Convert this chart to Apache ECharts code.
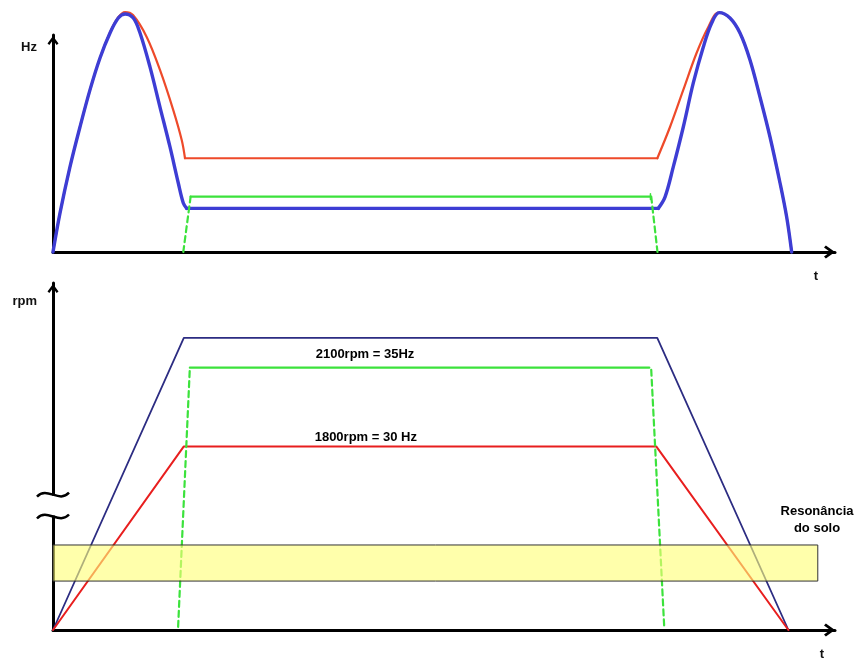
<!DOCTYPE html>
<html><head><meta charset="utf-8">
<script src="https://cdn.jsdelivr.net/npm/echarts@6/dist/echarts.min.js"></script>
<style>html,body{margin:0;padding:0;background:#fff}#c{width:856px;height:662px}</style>
</head><body><div id="c"></div>
<script>
// ---- top panel: frequency (Hz) vs time (arbitrary units) ----
const hzBlueUp = [[0,0],[0.9,18.0],[2.17,39.2],[3.45,57.6],[4.73,74.7],[6.01,89.4],[7.29,100.9],[8.35,107.8],[9.21,109.7],[10.27,107.8],[11.13,100.9],[12.4,85.3],[13.68,66.8],[14.96,48.4],[16.02,31.8],[16.66,22.6],[17.1,20.1]];
const hzBlueFlat = [[17.1,20.1],[77.4,20.1]];
const hzBlueDown = [[77.4,20.1],[78.26,25.3],[79.32,39.2],[80.6,57.6],[81.88,77.9],[83.16,94.5],[84.23,105.5],[85.2,110.3],[86.57,107.8],[87.85,100.9],[89.13,88.5],[90.41,71.4],[91.69,53.0],[92.97,31.8],[93.82,16.1],[94.46,0]];
const hzRedUp = [[0,0],[0.9,18.0],[2.17,39.2],[3.45,57.6],[4.73,74.7],[6.01,89.4],[7.29,101.2],[8.35,108.2],[9.21,110.6],[10.23,109.2],[11.98,99.1],[13.68,83.9],[15.38,65.4],[16.46,51.6],[16.88,43.2]];
const hzRedFlat = [[16.88,43.2],[77.28,43.2]];
const hzRedDown = [[77.28,43.2],[78.9,57.6],[80.6,74.7],[82.3,91.7],[83.8,103.7],[85.1,110.3],[86.57,107.8],[87.85,100.9],[89.13,88.5],[90.41,71.4],[91.69,53.0],[92.97,31.8],[93.82,16.1],[94.46,0]];
const hzGreenLeftDash = [[16.66,0],[17.6,25.5]];
const hzGreenLevel = [[17.6,25.5],[76.4,25.5]];
const hzGreenEndTick = [[76.4,24.2],[76.4,26.9]];
const hzGreenRightDash = [[76.5,25.5],[77.3,0]];

// ---- bottom panel: rotor speed (rpm) vs time ----
const rpmBlue = [[0,0],[16.73,84.2],[77.27,84.2],[94.04,0]];
const rpmRed = [[0,0],[16.73,52.9],[77.14,52.9],[94.04,0]];
const rpmGreenLeftDash = [[16.0,0.9],[17.5,75.6]];
const rpmGreenLevel = [[17.5,75.6],[76.25,75.6]];
const rpmGreenRightDash = [[76.5,75.0],[78.16,0.9]];
const resonanceBand = [[0, 14.1, 97.8, 24.5]];   // [tStart, low, tEnd, high]
const rpmLabels = [[39.9, 79.3, '2100rpm = 35Hz'], [40.0, 55.5, '1800rpm = 30 Hz']];
const bandLabel = [[97.7, 31.6, 'Resonância\ndo solo']];
const axisNames = { topY: 'Hz', bottomY: 'rpm', x: 't' };

const arrowPath = 'path://M6,0 L12,8.3 L10,10 L6,4.4 L2,10 L0,8.3 Z';
const FONT = 'Liberation Sans';
const GREEN = '#3CE23C';

function xAx(gi, gap) {
  return {
    type: 'value', gridIndex: gi, min: 0, max: 100,
    axisLine: { show: true, onZero: false, lineStyle: { color: '#000', width: 3 },
      symbol: ['none', arrowPath], symbolSize: [17, 11], symbolOffset: [0, -5.5] },
    axisTick: { show: false }, axisLabel: { show: false }, splitLine: { show: false },
    name: axisNames.x, nameLocation: 'end', nameGap: gap,
    nameTextStyle: { fontFamily: FONT, fontWeight: 'bold', fontSize: 13, color: '#111',
      align: 'center', verticalAlign: 'top', padding: [18, 0, 0, 0] }
  };
}
function yAx(gi, name, gap) {
  return {
    type: 'value', gridIndex: gi, min: 0, max: 100,
    axisLine: { show: true, onZero: false, lineStyle: { color: '#000', width: 3 },
      symbol: ['none', arrowPath], symbolSize: [11, 11], symbolOffset: [0, -5.5] },
    axisTick: { show: false }, axisLabel: { show: false }, splitLine: { show: false },
    name: name, nameLocation: 'end', nameGap: gap,
    nameTextStyle: { fontFamily: FONT, fontWeight: 'bold', fontSize: 13, color: '#111',
      align: 'right', verticalAlign: 'middle', padding: [0, 16, 0, 0] }
  };
}
function ln(data, xi, color, width, dashed, z, smooth) {
  return { type: 'line', xAxisIndex: xi, yAxisIndex: xi, data: data, showSymbol: false,
    symbol: 'none', clip: false, silent: true, z: z || 3, smooth: smooth || false,
    lineStyle: { color: color, width: width, type: dashed ? [6, 4] : 'solid', cap: 'round', join: 'round' } };
}
function textSeries(data, xi) {
  return { type: 'scatter', xAxisIndex: xi, yAxisIndex: xi, symbolSize: 1, silent: true, z: 20,
    itemStyle: { color: 'rgba(255,255,255,0)' }, data: data.map(d => ({ value: [d[0], d[1]], name: d[2] })),
    label: { show: true, position: 'inside', formatter: p => p.name, opacity: 1,
      fontFamily: FONT, fontWeight: 'bold', fontSize: 13, color: '#000', lineHeight: 17, align: 'center' } };
}

const RED_T = '#EE4A2A', BLUE_T = '#3D3DD4';
const chart = echarts.init(document.getElementById('c'), null, { renderer: 'canvas' });
chart.setOption({
  animation: false,
  backgroundColor: '#fff',
  grid: [
    { left: 53, right: 21, top: 35, height: 217 },
    { left: 53, right: 21, top: 283, height: 347 }
  ],
  xAxis: [xAx(0, -19), xAx(1, -13)],
  yAxis: [yAx(0, axisNames.topY, -12), yAx(1, axisNames.bottomY, -18)],
  series: [
    ln(hzRedUp, 0, RED_T, 2.2, false, 3, 0.35),
    ln(hzRedFlat, 0, RED_T, 2.2, false, 3),
    ln(hzRedDown, 0, RED_T, 2.2, false, 3, 0.35),
    ln(hzBlueUp, 0, BLUE_T, 3.4, false, 4, 0.35),
    ln(hzBlueFlat, 0, BLUE_T, 3.4, false, 4),
    ln(hzBlueDown, 0, BLUE_T, 3.4, false, 4, 0.35),
    ln(hzGreenLeftDash, 0, GREEN, 2.2, true, 5),
    ln(hzGreenLevel, 0, GREEN, 2.2, false, 5),
    ln(hzGreenEndTick, 0, GREEN, 1.5, false, 5),
    ln(hzGreenRightDash, 0, GREEN, 2.2, true, 5),
    ln(rpmBlue, 1, '#2C2C82', 1.8, false, 3),
    ln(rpmRed, 1, '#E81E1E', 2, false, 3),
    ln(rpmGreenLeftDash, 1, GREEN, 2.2, true, 5),
    ln(rpmGreenLevel, 1, GREEN, 2.2, false, 5),
    ln(rpmGreenRightDash, 1, GREEN, 2.2, true, 5),
    {
      type: 'custom', xAxisIndex: 1, yAxisIndex: 1, z: 10, silent: true, data: resonanceBand,
      renderItem: function (params, api) {
        const p0 = api.coord([api.value(0), api.value(3)]);
        const p1 = api.coord([api.value(2), api.value(1)]);
        return { type: 'rect', shape: { x: p0[0], y: p0[1], width: p1[0] - p0[0], height: p1[1] - p0[1] },
          style: { fill: 'rgba(255,255,120,0.62)', stroke: '#333', lineWidth: 1 } };
      }
    },
    textSeries(rpmLabels, 1),
    textSeries(bandLabel, 1)
  ]
});

// axis-break mark on the rpm axis
const pA = chart.convertToPixel({ gridIndex: 1 }, [0, 39.0]);
const pB = chart.convertToPixel({ gridIndex: 1 }, [0, 32.7]);
function tilde(x, y) {
  return { type: 'bezierCurve', z: 100, silent: true,
    shape: { x1: x - 16, y1: y + 2, cpx1: x - 6, cpy1: y - 9, cpx2: x + 6, cpy2: y + 9, x2: x + 16, y2: y - 2 },
    style: { stroke: '#000', lineWidth: 2.5, fill: null } };
}
chart.setOption({
  graphic: [
    { type: 'rect', z: 99, silent: true, shape: { x: pA[0] - 4, y: pA[1] + 1, width: 8, height: pB[1] - pA[1] - 2 },
      style: { fill: '#fff' } },
    tilde(pA[0], pA[1]),
    tilde(pB[0], pB[1])
  ]
});
</script>
</body></html>
